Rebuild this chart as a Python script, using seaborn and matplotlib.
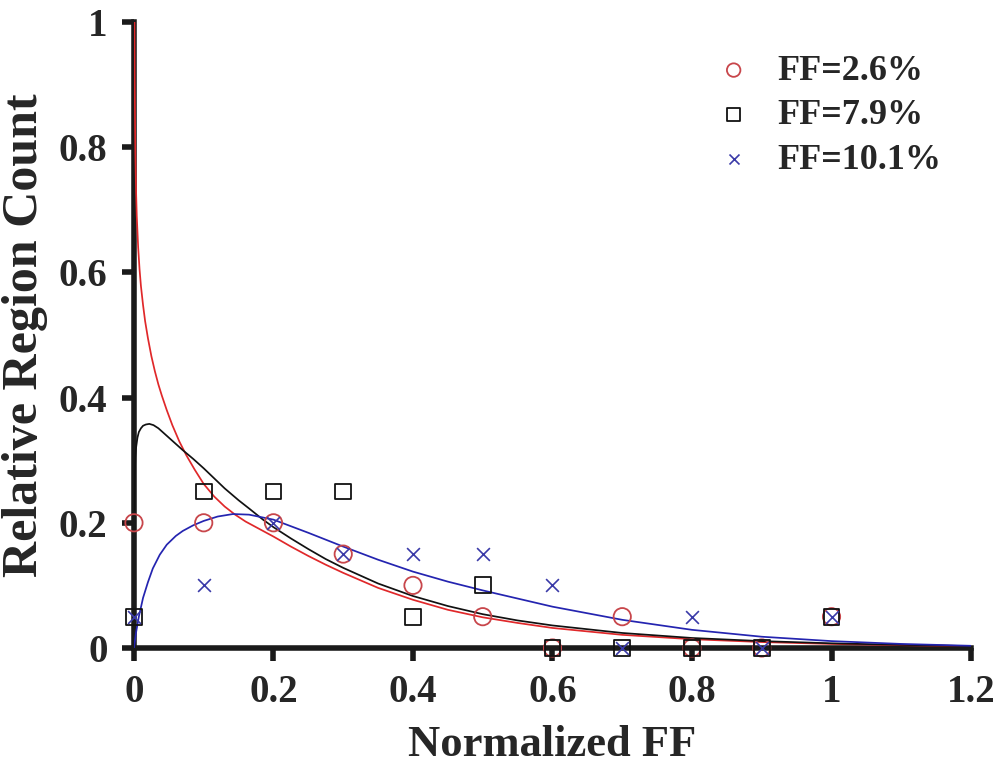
import numpy as np
import pandas as pd
import matplotlib
matplotlib.use("Agg")
import matplotlib.pyplot as plt
from matplotlib.ticker import FuncFormatter
import seaborn as sns

# Measured relative region counts per normalized-FF bin
bins = [0.0, 0.1, 0.2, 0.3, 0.4, 0.5, 0.6, 0.7, 0.8, 0.9, 1.0]
count_26 = [0.20, 0.20, 0.20, 0.15, 0.10, 0.05, 0.00, 0.05, 0.00, 0.00, 0.05]
count_79 = [0.05, 0.25, 0.25, 0.25, 0.05, 0.10, 0.00, 0.00, 0.00, 0.00, 0.05]
count_101 = [0.05, 0.10, 0.20, 0.15, 0.15, 0.15, 0.10, 0.00, 0.05, 0.00, 0.05]

# Fitted distribution curves (sampled)
fit_x_26 = [0.0006, 0.001, 0.0015, 0.002, 0.003, 0.004, 0.006, 0.008, 0.01, 0.013,
            0.016, 0.02, 0.025, 0.03, 0.035, 0.04, 0.047, 0.055, 0.065, 0.075,
            0.087, 0.1, 0.115, 0.13, 0.145, 0.16, 0.18, 0.2, 0.225, 0.25, 0.275,
            0.3, 0.35, 0.4, 0.45, 0.5, 0.55, 0.6, 0.7, 0.8, 0.9, 1.0, 1.1, 1.2]
fit_y_26 = [1.02, 0.91, 0.845, 0.79, 0.73, 0.69, 0.64, 0.605, 0.578, 0.548,
            0.522, 0.495, 0.466, 0.442, 0.421, 0.403, 0.38, 0.356, 0.33, 0.308,
            0.285, 0.262, 0.242, 0.226, 0.213, 0.202, 0.19, 0.178, 0.162, 0.147, 0.133,
            0.12, 0.096, 0.077, 0.061, 0.049, 0.04, 0.032, 0.021, 0.014, 0.0095, 0.0065, 0.0045, 0.003]

fit_x_79 = [0.0005, 0.001, 0.002, 0.003, 0.005, 0.007, 0.01, 0.013, 0.017, 0.022,
            0.028, 0.035, 0.042, 0.05, 0.06, 0.07, 0.085, 0.1, 0.115, 0.13, 0.15,
            0.166, 0.185, 0.2, 0.225, 0.25, 0.275, 0.3, 0.35, 0.4, 0.45, 0.5, 0.55,
            0.6, 0.7, 0.8, 0.9, 1.0, 1.1, 1.2]
fit_y_79 = [0.22, 0.27, 0.305, 0.32, 0.336, 0.345, 0.351, 0.355, 0.357, 0.358,
            0.356, 0.351, 0.344, 0.336, 0.326, 0.316, 0.302, 0.287, 0.271, 0.255, 0.236,
            0.222, 0.205, 0.193, 0.175, 0.158, 0.142, 0.128, 0.103, 0.083, 0.067, 0.054, 0.044,
            0.036, 0.024, 0.016, 0.011, 0.0075, 0.005, 0.003]

fit_x_101 = [0.0, 0.003, 0.007, 0.013, 0.02, 0.027, 0.037, 0.047, 0.06, 0.07,
             0.085, 0.1, 0.12, 0.142, 0.165, 0.2, 0.25, 0.3, 0.35, 0.4, 0.45,
             0.5, 0.55, 0.6, 0.7, 0.8, 0.9, 1.0, 1.1, 1.2]
fit_y_101 = [0.0, 0.025, 0.05, 0.08, 0.105, 0.127, 0.149, 0.165, 0.179, 0.187,
             0.196, 0.203, 0.21, 0.214, 0.213, 0.205, 0.184, 0.162, 0.141, 0.122, 0.106,
             0.092, 0.079, 0.066, 0.045, 0.029, 0.018, 0.011, 0.0065, 0.0035]

labels = ["FF=2.6%", "FF=7.9%", "FF=10.1%"]
x_ticks = [0.0, 0.2, 0.4, 0.6, 0.8, 1.0, 1.2]
y_ticks = [0.0, 0.2, 0.4, 0.6, 0.8, 1.0]

sns.set_theme(style="white")
plt.rcParams["font.family"] = ["Liberation Serif", "DejaVu Serif"]
plt.rcParams["font.weight"] = "bold"
plt.rcParams["axes.labelweight"] = "bold"

fig = plt.figure(figsize=(10.05, 7.74), dpi=100)
ax = fig.add_axes([0.1333, 0.1628, 0.8329, 0.8088])

series = [
    dict(y=count_26, fx=fit_x_26, fy=fit_y_26, label=labels[0], marker="o",
         mcolor="#c8464b", lcolor="#e0282a", s=155),
    dict(y=count_79, fx=fit_x_79, fy=fit_y_79, label=labels[1], marker="s",
         mcolor="#111111", lcolor="#111111", s=130),
    dict(y=count_101, fx=fit_x_101, fy=fit_y_101, label=labels[2], marker="x",
         mcolor="#3a3aa8", lcolor="#2424b0", s=85),
]

# fitted curves
for d in series:
    sns.lineplot(x=d["fx"], y=d["fy"], ax=ax, color=d["lcolor"], lw=1.25,
                 estimator=None, sort=False, legend=False, zorder=3)

# measured points
for d in series:
    if d["marker"] == "x":
        sns.scatterplot(x=bins, y=d["y"], ax=ax, marker="x", s=d["s"],
                        color=d["mcolor"], linewidth=1.2, label=d["label"],
                        zorder=4, clip_on=False)
    else:
        sns.scatterplot(x=bins, y=d["y"], ax=ax, marker=d["marker"], s=d["s"],
                        color=d["mcolor"], facecolor="none",
                        edgecolor=d["mcolor"], linewidth=1.3,
                        label=d["label"], zorder=4, clip_on=False)

ax.set_xlim(0, 1.2)
ax.set_ylim(0, 1.0)
ax.set_xticks(x_ticks)
ax.set_yticks(y_ticks)
fmt = FuncFormatter(lambda v, p: f"{v:g}")
ax.xaxis.set_major_formatter(fmt)
ax.yaxis.set_major_formatter(fmt)

for side in ["top", "right"]:
    ax.spines[side].set_visible(False)
for side in ["left", "bottom"]:
    ax.spines[side].set_linewidth(4)
    ax.spines[side].set_color("#1a1a1a")

ax.tick_params(axis="both", direction="out", length=9, width=4,
               color="#1a1a1a", labelsize=28, pad=10,
               bottom=True, left=True)
for t in ax.get_xticklabels() + ax.get_yticklabels():
    t.set_fontweight("bold")

ax.set_xlabel("Normalized FF", fontsize=32, fontweight="bold", labelpad=10)
ax.set_ylabel("Relative Region Count", fontsize=36, fontweight="bold", labelpad=8)

leg = ax.legend(loc="upper right", bbox_to_anchor=(0.99, 0.983), frameon=False,
                fontsize=26, markerscale=0.78, handletextpad=0.2,
                labelspacing=0.31, borderaxespad=0.2)
for t in leg.get_texts():
    t.set_fontweight("bold")

fig.savefig("out.png", dpi=100, facecolor="white")
